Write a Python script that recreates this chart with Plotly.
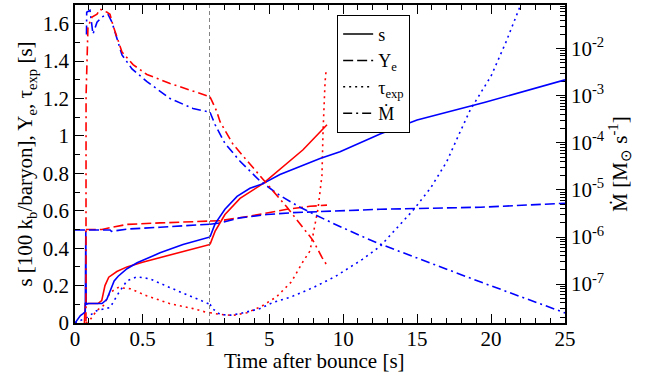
import plotly.graph_objects as go
import numpy as np

# ---------------- data ----------------
# entropy s [100 kB/baryon]
s_red_t = [0.07, 0.075, 0.17, 0.198, 0.222, 0.25, 0.31, 0.385, 0.5, 0.63, 0.8, 0.98, 1.0,
           1.34, 2.01, 3.03, 4.58, 5.94, 7.29, 8.91]
s_red_v = [0.0, 0.104, 0.104, 0.12, 0.2, 0.245, 0.275, 0.30, 0.325, 0.35, 0.38, 0.415, 0.42,
           0.49, 0.58, 0.666, 0.745, 0.836, 0.926, 1.06]
s_blue_t = [0.0, 0.01, 0.04, 0.06, 0.076, 0.08, 0.083, 0.1, 0.2, 0.235, 0.26, 0.29, 0.32, 0.385,
            0.46, 0.63, 0.8, 0.98, 1.0,
            1.34, 2.01, 2.83, 3.70, 4.58, 5.73, 7.09, 8.44, 9.79, 11.14, 12.5, 15.0, 19.6, 25.0]
s_blue_v = [0.0, 0.01, 0.04, 0.05, 0.06, 0.49, 0.10, 0.104, 0.104, 0.125, 0.17, 0.225, 0.25, 0.29,
            0.322, 0.375, 0.42, 0.455, 0.46,
            0.53, 0.608, 0.677, 0.72, 0.745, 0.794, 0.836, 0.879, 0.916, 0.964, 1.01, 1.085, 1.18, 1.30]

# electron fraction Ye
ye_red_t = [0.08, 0.2, 0.26, 0.385, 0.63, 0.98, 1.0, 1.68, 3.7, 6.2, 7.76, 8.91]
ye_red_v = [0.50, 0.50, 0.51, 0.527, 0.535, 0.544, 0.545, 0.547, 0.571, 0.608, 0.624, 0.63]
ye_blue_t = [0.0, 0.26, 0.27, 0.385, 0.63, 0.98, 1.0, 1.68, 3.03, 4.85, 6.61, 9.3, 12.5, 19.3, 25.0]
ye_blue_v = [0.497, 0.497, 0.49, 0.502, 0.512, 0.527, 0.528, 0.535, 0.562, 0.58, 0.59, 0.597,
             0.608, 0.619, 0.64]

# expansion timescale tau_exp [s]
tau_red_t = [0.08, 0.11, 0.16, 0.21, 0.26, 0.32, 0.41, 0.53, 0.70, 0.875, 0.98, 1.0,
             1.5, 2.5, 3.5, 4.5, 5.5, 6.5, 7.3, 7.76, 8.0, 8.3, 8.57, 8.64, 8.78, 8.85]
tau_red_v = [0.0, 0.015, 0.066, 0.093, 0.163, 0.19, 0.183, 0.146, 0.104, 0.077, 0.056, 0.055,
             0.048, 0.04, 0.055, 0.09, 0.14, 0.22, 0.33, 0.385, 0.49, 0.61, 0.79, 1.02, 1.29, 1.35]
tau_blue_t = [0.0, 0.05, 0.09, 0.16, 0.26, 0.32, 0.385, 0.46, 0.556, 0.70, 0.85, 0.98, 1.0,
              1.2, 1.68, 2.4, 3.03, 4.38, 5.26, 6.5, 8.0, 9.5, 10.5, 11.3, 12.5, 14.7, 15.9,
              17.0, 17.9, 18.6, 20.0, 21.0, 22.0]
tau_blue_v = [0.0, 0.015, 0.03, 0.066, 0.083, 0.157, 0.226, 0.247, 0.236, 0.19, 0.146, 0.104, 0.1,
              0.075, 0.045, 0.042, 0.05, 0.077, 0.11, 0.14, 0.19, 0.25, 0.30, 0.34, 0.41, 0.60, 0.72,
              0.862, 1.02, 1.14, 1.32, 1.5, 1.7]

# mass outflow rate Mdot [Msun/s]
md_red_t = [0.081, 0.082, 0.096, 0.126, 0.163, 0.185, 0.237, 0.259, 0.281, 0.348, 0.43, 0.533,
            0.704, 0.874, 0.978, 1.0, 1.45, 1.68, 2.56, 3.70, 4.85, 6.21, 7.29, 7.96, 8.57, 8.91]
md_red_v = [1e-9, 1e-3, 2.88e-2, 4.68e-2, 5.37e-2, 6.9e-2, 5.93e-2, 5.37e-2, 3.16e-2, 8.5e-3,
            4.57e-3, 2.82e-3, 1.82e-3, 1.23e-3, 1.0e-3, 9.5e-4, 4.7e-4, 2.8e-4, 9.3e-5, 3.55e-5,
            1.35e-5, 4.27e-6, 1.58e-6, 8.5e-7, 3.7e-7, 2.5e-7]
md_blue_t = [0.085, 0.0867, 0.111, 0.133, 0.163, 0.198, 0.244, 0.274, 0.348, 0.422, 0.533, 0.704,
             0.874, 0.978, 1.0, 1.34, 2.01, 3.03, 4.38, 5.73, 7.09, 9.32, 11.6, 12.5, 19.26, 25.0]
md_blue_v = [2.0e-2, 5.93e-2, 6.53e-2, 2.04e-2, 3.63e-2, 4.68e-2, 5.37e-2, 3.63e-2, 7.36e-3,
             3.72e-3, 2.0e-3, 8.7e-4, 5.37e-4, 4.68e-4, 4.47e-4, 2.45e-4, 9.77e-5, 4.07e-5,
             1.55e-5, 7.6e-6, 4.27e-6, 1.95e-6, 9.3e-7, 7.1e-7, 1.12e-7, 2.45e-8]

right_tickvals = [1e-7, 1e-6, 1e-5, 1e-4, 1e-3, 1e-2]
right_ticktext = ["10<sup>-7</sup>", "10<sup>-6</sup>", "10<sup>-5</sup>",
                  "10<sup>-4</sup>", "10<sup>-3</sup>", "10<sup>-2</sup>"]

# ---------------- styling ----------------
RED = "#ff0000"
BLUE = "#0000ff"
FONT = "Liberation Serif, Times New Roman, serif"
FS = 21
DASH = {"s": "solid", "ye": "10px,4px", "tau": "2px,4px", "md": "9px,4px,2px,4px"}
LW = 1.6
SPLIT = 135 / 490.0  # fraction of the plot width used by 0..1 s

fig = go.Figure()


def add_series(t, v, color, dash, on_log):
    t = np.asarray(t, float)
    v = np.asarray(v, float)
    lo = t <= 1.0
    hi = t >= 1.0
    ya = "y2" if on_log else "y"
    if lo.any():
        fig.add_trace(go.Scatter(x=t[lo], y=v[lo], mode="lines", xaxis="x", yaxis=ya,
                                 line=dict(color=color, width=LW, dash=dash),
                                 showlegend=False, hoverinfo="skip"))
    if hi.any():
        fig.add_trace(go.Scatter(x=t[hi], y=v[hi], mode="lines", xaxis="x2", yaxis=ya,
                                 line=dict(color=color, width=LW, dash=dash),
                                 showlegend=False, hoverinfo="skip"))


add_series(tau_red_t, tau_red_v, RED, DASH["tau"], False)
add_series(tau_blue_t, tau_blue_v, BLUE, DASH["tau"], False)
add_series(md_blue_t, md_blue_v, BLUE, DASH["md"], True)
add_series(md_red_t, md_red_v, RED, DASH["md"], True)
add_series(ye_red_t, ye_red_v, RED, DASH["ye"], False)
add_series(ye_blue_t, ye_blue_v, BLUE, DASH["ye"], False)
add_series(s_red_t, s_red_v, RED, DASH["s"], False)
add_series(s_blue_t, s_blue_v, BLUE, DASH["s"], False)

# legend entries (black)
legend_names = ["s", "Y<sub>e</sub>", "τ<sub>exp</sub>", "Ṁ"]
legend_dash = [DASH["s"], DASH["ye"], DASH["tau"], DASH["md"]]
for name, d in zip(legend_names, legend_dash):
    fig.add_trace(go.Scatter(x=[None], y=[None], mode="lines", xaxis="x", yaxis="y",
                             line=dict(color="black", width=1.5, dash=d), name=name))

axis_common = dict(showline=True, linecolor="black", linewidth=1.5, showgrid=False,
                   zeroline=False, ticks="inside", tickcolor="black", tickwidth=1.2,
                   ticklen=9, tickfont=dict(family=FONT, size=FS, color="black"))

fig.update_layout(
    width=647, height=381,
    margin=dict(l=75, r=82, t=3, b=58),
    paper_bgcolor="white", plot_bgcolor="white",
    font=dict(family=FONT, size=FS, color="black"),
    xaxis=dict(domain=[0, SPLIT], range=[0, 1], anchor="y", tick0=0, dtick=0.5,
               mirror="ticks", ticklabelstandoff=-4,
               minor=dict(ticks="inside", ticklen=5, dtick=0.1, tickcolor="black", showgrid=False),
               **axis_common),
    xaxis2=dict(domain=[SPLIT, 1], range=[1, 25], anchor="y", tick0=0, dtick=5,
                mirror="ticks", ticklabelstandoff=-4,
                minor=dict(ticks="inside", ticklen=5, dtick=1, tick0=0, tickcolor="black",
                           showgrid=False),
                **axis_common),
    yaxis=dict(domain=[0, 1], range=[0, 1.7], anchor="x", side="left", tick0=0, dtick=0.2,
               minor=dict(ticks="inside", ticklen=5, dtick=0.1, tickcolor="black", showgrid=False),
               title=dict(text="s [100 k<sub>b</sub>/baryon], Y<sub>e</sub>, τ<sub>exp</sub> [s]",
                          font=dict(family=FONT, size=FS), standoff=4),
               **axis_common),
    yaxis2=dict(type="log", range=[-7.825, -1.074], overlaying="y", anchor="x2", side="right",
                tickmode="array", tickvals=right_tickvals, ticktext=right_ticktext,
                minor=dict(ticks="inside", ticklen=5, dtick="D1", tickcolor="black",
                           showgrid=False),
                title=dict(text="Ṁ [M<sub>⊙</sub> s<sup>-1</sup>]",
                           font=dict(family=FONT, size=FS), standoff=4),
                **axis_common),
    legend=dict(x=0.535, y=0.969, xanchor="left", yanchor="top", bgcolor="white",
                bordercolor="black", borderwidth=1, font=dict(family=FONT, size=18),
                itemwidth=30, tracegroupgap=0),
    shapes=[dict(type="line", xref="x", yref="paper", x0=1, x1=1, y0=0, y1=1,
                 line=dict(color="#666666", width=1.6, dash="4px,3px"))],
    annotations=[dict(text="Time after bounce [s]", xref="paper", yref="paper",
                      x=0.488, y=-0.12, xanchor="center", yanchor="middle", showarrow=False,
                      font=dict(family=FONT, size=FS, color="black"))],
)

fig.write_html("out.html")
